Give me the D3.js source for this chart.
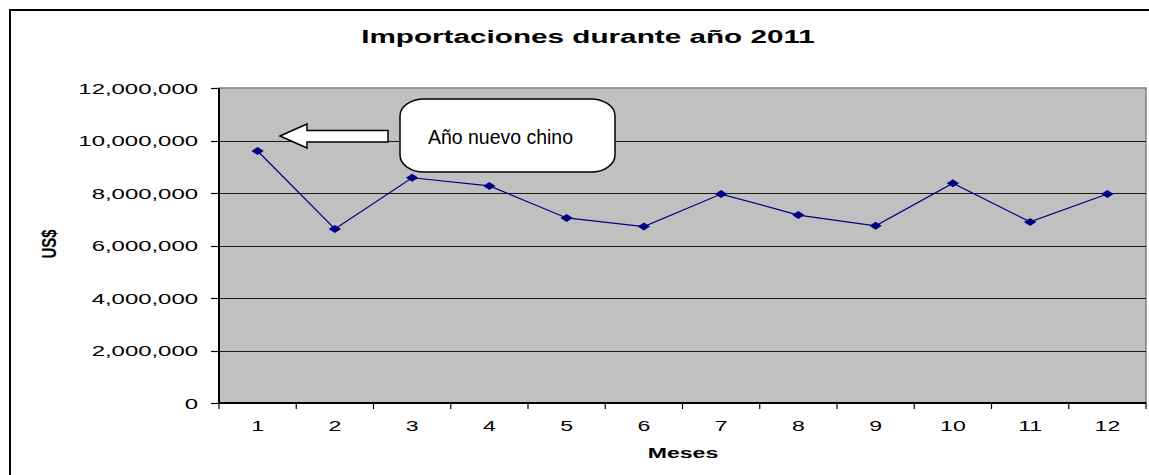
<!DOCTYPE html>
<html>
<head>
<meta charset="utf-8">
<script src="https://cdn.jsdelivr.net/npm/d3@7"></script>
<style>
  body { margin: 0; background: #fff; }
  text { font-family: "Liberation Sans", Arial, sans-serif; }
</style>
</head>
<body>
<div id="chart"></div>
<script>
// data
var meses = ["1", "2", "3", "4", "5", "6", "7", "8", "9", "10", "11", "12"];
var importaciones = [9600000, 6630000, 8580000, 8270000, 7050000, 6720000,
                     7960000, 7160000, 6750000, 8370000, 6900000, 7960000];
var yTicks = [0, 2000000, 4000000, 6000000, 8000000, 10000000, 12000000];

var width = 1149, height = 475;
var plot = { left: 219, right: 1146, top: 88, bottom: 403 };
var SX = 1.65; // the original picture is stretched sideways

var svg = d3.select("#chart").append("svg")
  .attr("width", width)
  .attr("height", height);

// outer chart frame (only left and top edges are in view)
svg.append("rect")
  .attr("x", 10).attr("y", 10)
  .attr("width", 1300).attr("height", 700)
  .attr("fill", "#fff")
  .attr("stroke", "#000")
  .attr("stroke-width", 2);

var x = d3.scaleBand()
  .domain(meses)
  .range([plot.left, plot.right]);

var y = d3.scaleLinear()
  .domain([0, 12000000])
  .range([plot.bottom, plot.top]);

// plot area
svg.append("rect")
  .attr("x", plot.left).attr("y", plot.top)
  .attr("width", plot.right - plot.left)
  .attr("height", plot.bottom - plot.top)
  .attr("fill", "#c0c0c0")
  .attr("stroke", "#808080")
  .attr("stroke-width", 1.5);

// gridlines
svg.append("g").selectAll("line")
  .data(yTicks.filter(function(d) { return d > 0 && d < 12000000; }))
  .enter().append("line")
  .attr("x1", plot.left).attr("x2", plot.right)
  .attr("y1", function(d) { return Math.round(y(d)) + 0.5; })
  .attr("y2", function(d) { return Math.round(y(d)) + 0.5; })
  .attr("stroke", "#1a1a1a")
  .attr("stroke-width", 1);

// y axis
var yAxis = svg.append("g");
yAxis.append("line")
  .attr("x1", plot.left).attr("x2", plot.left)
  .attr("y1", plot.top).attr("y2", plot.bottom)
  .attr("stroke", "#000").attr("stroke-width", 2);
yAxis.selectAll(".tick").data(yTicks).enter().append("line")
  .attr("x1", plot.left - 8).attr("x2", plot.left)
  .attr("y1", function(d) { return Math.round(y(d)) + 0.5; })
  .attr("y2", function(d) { return Math.round(y(d)) + 0.5; })
  .attr("stroke", "#000").attr("stroke-width", 1.2);
yAxis.selectAll(".lbl").data(yTicks).enter().append("text")
  .attr("transform", function(d) { return "translate(198," + (y(d) + 5.5) + ") scale(" + SX + ",1)"; })
  .attr("text-anchor", "end")
  .attr("font-size", "14.5px")
  .attr("fill", "#000")
  .text(function(d) { return d3.format(",")(d); });

// x axis
var xAxis = svg.append("g");
xAxis.append("line")
  .attr("x1", plot.left).attr("x2", plot.right)
  .attr("y1", plot.bottom).attr("y2", plot.bottom)
  .attr("stroke", "#000").attr("stroke-width", 2);
var bounds = meses.map(function(m) { return x(m); }).concat([plot.right]);
xAxis.selectAll(".tick").data(bounds).enter().append("line")
  .attr("x1", function(d) { return d; }).attr("x2", function(d) { return d; })
  .attr("y1", plot.bottom).attr("y2", plot.bottom + 6)
  .attr("stroke", "#000").attr("stroke-width", 1.2);
xAxis.selectAll(".lbl").data(meses).enter().append("text")
  .attr("transform", function(d) { return "translate(" + (x(d) + x.bandwidth() / 2) + ",431) scale(" + SX + ",1)"; })
  .attr("text-anchor", "middle")
  .attr("font-size", "14px")
  .attr("fill", "#000")
  .text(function(d) { return d; });

// series line
var line = d3.line()
  .x(function(d, i) { return x(meses[i]) + x.bandwidth() / 2; })
  .y(function(d) { return y(d); });

svg.append("path")
  .datum(importaciones)
  .attr("d", line)
  .attr("fill", "none")
  .attr("stroke", "#000080")
  .attr("stroke-width", 1.2);

svg.append("g").selectAll("path")
  .data(importaciones)
  .enter().append("path")
  .attr("d", "M0,-4L6.2,0L0,4L-6.2,0Z")
  .attr("transform", function(d, i) { return "translate(" + (x(meses[i]) + x.bandwidth() / 2) + "," + y(d) + ")"; })
  .attr("fill", "#000080");

// title and axis titles
svg.append("text")
  .attr("transform", "translate(588,43) scale(" + SX + ",1)")
  .attr("text-anchor", "middle")
  .attr("font-size", "18px")
  .attr("font-weight", "bold")
  .text("Importaciones durante año 2011");

svg.append("text")
  .attr("transform", "translate(683,458) scale(" + SX + ",1)")
  .attr("text-anchor", "middle")
  .attr("font-size", "14px")
  .attr("font-weight", "bold")
  .text("Meses");

svg.append("text")
  .attr("transform", "translate(56,244) scale(1.3,1) rotate(-90)")
  .attr("text-anchor", "middle")
  .attr("font-size", "15px")
  .attr("font-weight", "bold")
  .text("US$");

// annotation: block arrow
svg.append("path")
  .attr("d", "M280,136L307,124L307,130.5L388,130.5L388,142L307,142L307,148Z")
  .attr("fill", "#fff")
  .attr("stroke", "#000")
  .attr("stroke-width", 1.5);

// annotation: callout box
svg.append("rect")
  .attr("x", 400).attr("y", 99)
  .attr("width", 215).attr("height", 73)
  .attr("rx", 24).attr("ry", 17)
  .attr("fill", "#fff")
  .attr("stroke", "#000")
  .attr("stroke-width", 1.5);

svg.append("text")
  .attr("x", 428).attr("y", 144)
  .attr("font-family", "Lato, 'Open Sans', sans-serif")
  .attr("font-size", "20px")
  .attr("textLength", 145)
  .attr("lengthAdjust", "spacingAndGlyphs")
  .text("Año nuevo chino");
</script>
</body>
</html>
